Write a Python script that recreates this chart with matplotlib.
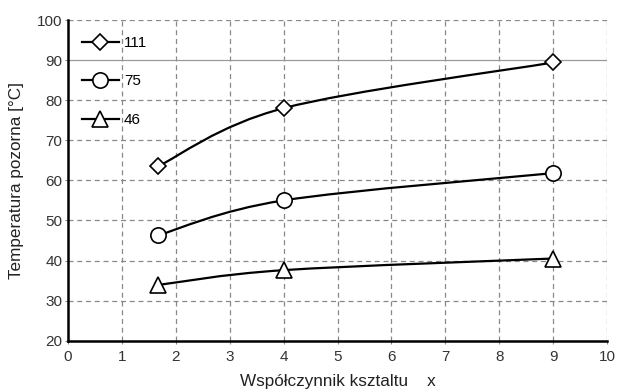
import numpy as np
import matplotlib
matplotlib.use("Agg")
import matplotlib.pyplot as plt
from matplotlib.path import Path
from matplotlib.patches import PathPatch

plt.rcParams['font.family'] = ['Liberation Sans', 'DejaVu Sans']

x_vals = [1.67, 4.0, 9.0]
s111 = [63.5, 78.0, 89.4]
s75 = [46.3, 55.0, 61.8]
s46 = [33.9, 37.6, 40.5]
labels = ["111", "75", "46"]
markers = ["D", "o", "^"]
msizes = [8, 11, 11]

fig = plt.figure(figsize=(6.17, 3.92), dpi=100)
ax = fig.add_axes([68/617, 1-340.7/392, (607-68)/617, (340.7-20)/392])

def smooth_path(xs, ys):
    # Catmull-Rom converted to cubic Bezier segments
    pts = np.column_stack([xs, ys]).astype(float)
    n = len(pts)
    verts = [pts[0]]
    codes = [Path.MOVETO]
    for i in range(n - 1):
        p0 = pts[i - 1] if i > 0 else pts[i]
        p1 = pts[i]
        p2 = pts[i + 1]
        p3 = pts[i + 2] if i + 2 < n else pts[i + 1]
        c1 = p1 + (p2 - p0) / 6.0
        c2 = p2 - (p3 - p1) / 6.0
        verts += [c1, c2, p2]
        codes += [Path.CURVE4] * 3
    return Path(verts, codes)

for ys, lab, m, ms in zip([s111, s75, s46], labels, markers, msizes):
    ax.add_patch(PathPatch(smooth_path(x_vals, ys), fill=False, lw=1.6,
                           edgecolor='black', zorder=3))
    ax.plot(x_vals, ys, linestyle='none', marker=m, markersize=ms,
            markerfacecolor='white', markeredgecolor='black',
            markeredgewidth=1.2, zorder=4)
    ax.plot([], [], color='black', lw=1.6, marker=m, markersize=ms,
            markerfacecolor='white', markeredgecolor='black',
            markeredgewidth=1.2, label=lab)

ax.set_xlim(0, 10)
ax.set_ylim(20, 100)
ax.set_xticks(range(0, 11))
ax.set_yticks(range(20, 101, 10))

for xv in range(1, 11):
    ax.axvline(xv, color='#888888', lw=0.9, ls=(0, (4, 3)), zorder=1)
for yv in range(30, 101, 10):
    if yv == 90:
        ax.axhline(yv, color='#999999', lw=0.9, ls='-', zorder=1)
    else:
        ax.axhline(yv, color='#888888', lw=0.9, ls=(0, (4, 3)), zorder=1)

ax.spines['top'].set_visible(False)
ax.spines['right'].set_visible(False)
ax.spines['left'].set_linewidth(1.8)
ax.spines['bottom'].set_linewidth(1.8)
ax.tick_params(axis='both', length=2, width=0.8, color='#888888',
               labelsize=11, labelcolor='#333333')
ax.tick_params(axis='x', pad=5)
ax.tick_params(axis='y', pad=2)

ax.set_xlabel("Współczynnik ksztaltu    x", fontsize=12.3, color='#222222', labelpad=7)
ax.set_ylabel("Temperatura pozorna [°C]", fontsize=12.3, color='#222222', labelpad=9)

leg = ax.legend(loc='upper left', frameon=False, fontsize=11, handlelength=2.4,
                handletextpad=0.35, labelspacing=1.6, borderaxespad=0.0,
                borderpad=0.0, bbox_to_anchor=(0.026, 0.95))

fig.savefig("out.png", dpi=100, facecolor='white')
